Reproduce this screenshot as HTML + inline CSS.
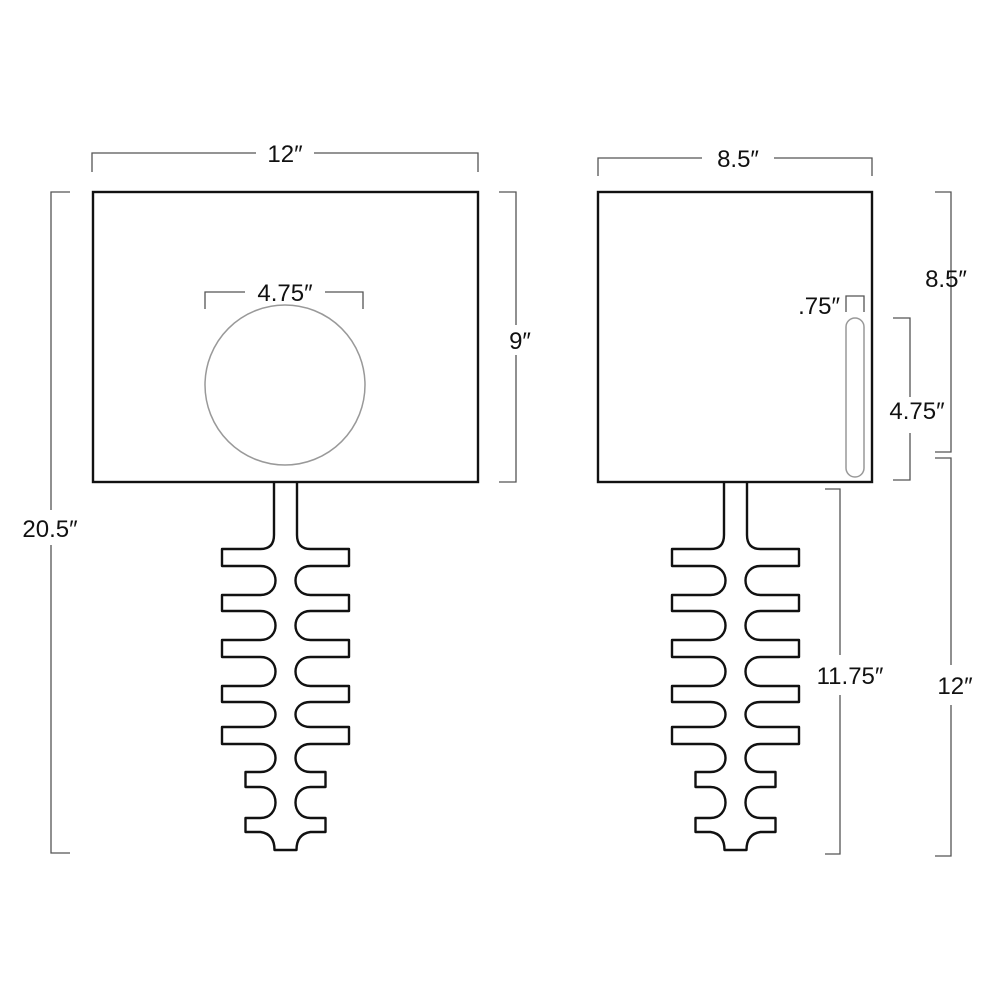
<!DOCTYPE html>
<html><head><meta charset="utf-8"><style>
html,body{margin:0;padding:0;background:#fff;}
svg{display:block}
text{font-family:"Liberation Sans",sans-serif;font-size:24px;fill:#111;}
</style></head><body>
<svg width="1000" height="1000" viewBox="0 0 1000 1000" xmlns="http://www.w3.org/2000/svg">
<defs>
<path id="fb" fill="#fff" stroke="#111" stroke-width="2.4" stroke-linejoin="round" d="M-11.5,482 L-11.5,535 Q-11.5,549 -25,549 L-63.5,549 L-63.5,566 L-25,566 C-5,566 -5,595 -25,595 L-63.5,595 L-63.5,611 L-25,611 C-5,611 -5,640 -25,640 L-63.5,640 L-63.5,657 L-25,657 C-5,657 -5,686 -25,686 L-63.5,686 L-63.5,702 L-25,702 C-5,702 -5,727 -25,727 L-63.5,727 L-63.5,744 L-25,744 C-5,744 -5,772 -25,772 L-40,772 L-40,787 L-25,787 C-5,787 -5,818 -25,818 L-40,818 L-40,832 L-25,832 Q-11,834 -11,850 L11,850 Q11,834 25,832 L40,832 L40,818 L25,818 C5,818 5,787 25,787 L40,787 L40,772 L25,772 C5,772 5,744 25,744 L63.5,744 L63.5,727 L25,727 C5,727 5,702 25,702 L63.5,702 L63.5,686 L25,686 C5,686 5,657 25,657 L63.5,657 L63.5,640 L25,640 C5,640 5,611 25,611 L63.5,611 L63.5,595 L25,595 C5,595 5,566 25,566 L63.5,566 L63.5,549 L25,549 Q11.5,549 11.5,535 L11.5,482"/>
</defs>

<use href="#fb" transform="translate(285.5,0)"/>
<rect x="93" y="192" width="385" height="290" fill="none" stroke="#111" stroke-width="2.4"/>
<circle cx="285" cy="385" r="80" fill="none" stroke="#999" stroke-width="1.5"/>

<use href="#fb" transform="translate(735.5,0)"/>
<rect x="598" y="192" width="274" height="290" fill="none" stroke="#111" stroke-width="2.4"/>
<rect x="846" y="318" width="18" height="159" rx="9" fill="none" stroke="#999" stroke-width="1.5"/>

<g fill="none" stroke="#555" stroke-width="1.3">
<path d="M92,172 V153 H256 M314,153 H478 V172"/>
<path d="M598,176 V158 H702 M774,158 H872 V176"/>
<path d="M205,309 V292 H245 M325,292 H363 V309"/>
<path d="M499,192 H516 V325 M516,355 V482 H499"/>
<path d="M70,192 H51 V510 M51,545 V853 H70"/>
<path d="M846,312 V296 H864 V312"/>
<path d="M893,318 H910 V397 M910,433 V480 H893"/>
<path d="M935,192 H951 V452 H935"/>
<path d="M935,458 H951 V665 M951,705 V856 H935"/>
<path d="M825,489 H840 V655 M840,695 V854 H825"/>
</g>

<text x="285" y="162" text-anchor="middle">12″</text>
<text x="738" y="167" text-anchor="middle">8.5″</text>
<text x="285" y="301" text-anchor="middle">4.75″</text>
<text x="520" y="349" text-anchor="middle">9″</text>
<text x="50" y="537" text-anchor="middle">20.5″</text>
<text x="840" y="314" text-anchor="end">.75″</text>
<text x="917" y="419" text-anchor="middle">4.75″</text>
<text x="946" y="287" text-anchor="middle">8.5″</text>
<text x="955" y="694" text-anchor="middle">12″</text>
<text x="850" y="684" text-anchor="middle">11.75″</text>
</svg>
</body></html>
